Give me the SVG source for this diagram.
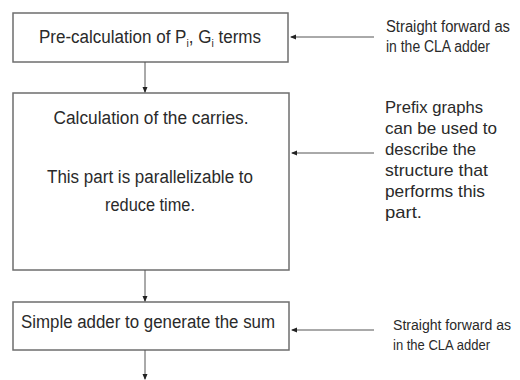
<svg xmlns="http://www.w3.org/2000/svg" width="520" height="380" viewBox="0 0 520 380">
<defs>
<style>
.box{fill:#fff;stroke:#6e6e6e;stroke-width:1.5}
.t{font-family:"Liberation Sans",Arial,sans-serif;fill:#2a2a2a}
.c{font-size:18px;text-anchor:middle}
.n{font-size:16px}
.line{stroke:#555;stroke-width:1;fill:none}
</style>
<marker id="ah" markerWidth="6" markerHeight="6" refX="5" refY="3" orient="auto" markerUnits="userSpaceOnUse">
<path d="M0,0.5 L6,3 L0,5.5 Z" fill="#222"/>
</marker>
</defs>
<rect width="520" height="380" fill="#fff"/>
<g id="n1">
<rect class="box" x="13" y="13" width="275" height="49"/>
<text class="t c" x="150" y="43" textLength="222" lengthAdjust="spacingAndGlyphs">Pre-calculation of P<tspan font-size="11" dy="4">i</tspan><tspan dy="-4">, G</tspan><tspan font-size="11" dy="4">i</tspan><tspan dy="-4"> terms</tspan></text>
</g>
<g id="n2">
<rect class="box" x="13" y="93" width="276" height="177"/>
<text class="t c" x="151" y="124" textLength="195" lengthAdjust="spacingAndGlyphs">Calculation of the carries.</text>
<text class="t c" x="150" y="183" textLength="206" lengthAdjust="spacingAndGlyphs">This part is parallelizable to</text>
<text class="t c" x="150" y="211" textLength="90" lengthAdjust="spacingAndGlyphs">reduce time.</text>
</g>
<g id="n3">
<rect class="box" x="13" y="302" width="276" height="48"/>
<text class="t c" x="148" y="328" textLength="254" lengthAdjust="spacingAndGlyphs">Simple adder to generate the sum</text>
</g>
<g id="note1">
<text class="t n" x="386" y="32" textLength="124" lengthAdjust="spacingAndGlyphs">Straight forward as</text>
<text class="t n" x="386" y="52" textLength="104" lengthAdjust="spacingAndGlyphs">in the CLA adder</text>
</g>
<g id="note2">
<text class="t" font-size="17" x="385" y="113" textLength="98" lengthAdjust="spacingAndGlyphs">Prefix graphs</text>
<text class="t" font-size="17" x="385" y="134" textLength="112" lengthAdjust="spacingAndGlyphs">can be used to</text>
<text class="t" font-size="17" x="385" y="155" textLength="91" lengthAdjust="spacingAndGlyphs">describe the</text>
<text class="t" font-size="17" x="385" y="176" textLength="103" lengthAdjust="spacingAndGlyphs">structure that</text>
<text class="t" font-size="17" x="385" y="197" textLength="100" lengthAdjust="spacingAndGlyphs">performs this</text>
<text class="t" font-size="17" x="385" y="218" textLength="37" lengthAdjust="spacingAndGlyphs">part.</text>
</g>
<g id="note3">
<text class="t" font-size="14" x="393" y="330" textLength="118" lengthAdjust="spacingAndGlyphs">Straight forward as</text>
<text class="t" font-size="14" x="393" y="350" textLength="97" lengthAdjust="spacingAndGlyphs">in the CLA adder</text>
</g>
<g id="connectors">
<line class="line" x1="145" y1="62" x2="145" y2="92" marker-end="url(#ah)"/>
<line class="line" x1="145" y1="270" x2="145" y2="301" marker-end="url(#ah)"/>
<line class="line" x1="145" y1="350" x2="145" y2="379" marker-end="url(#ah)"/>
<line class="line" x1="374" y1="37" x2="291" y2="37" marker-end="url(#ah)"/>
<line class="line" x1="374" y1="153" x2="292" y2="153" marker-end="url(#ah)"/>
<line class="line" x1="374" y1="330" x2="292" y2="330" marker-end="url(#ah)"/>
</g>
</svg>
